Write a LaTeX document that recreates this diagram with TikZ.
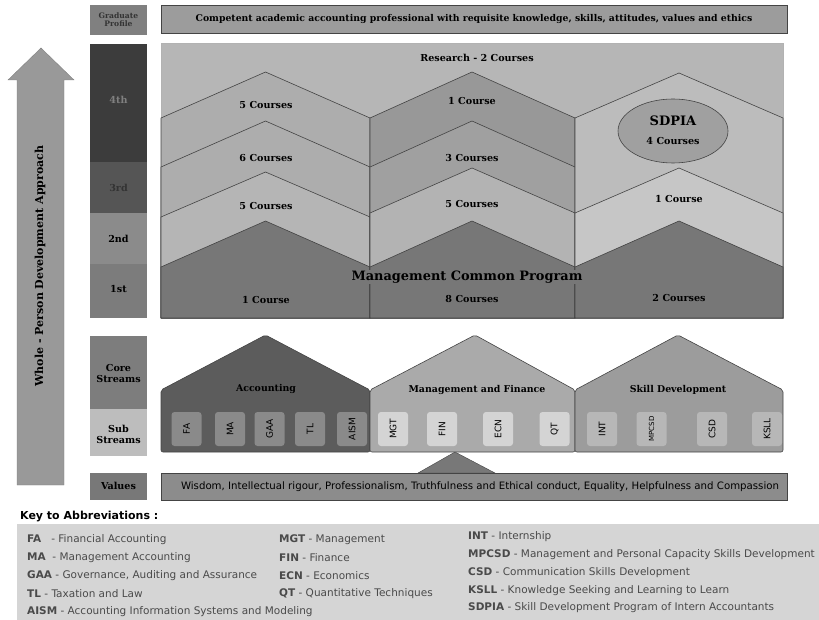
\documentclass[tikz,border=0pt]{standalone}
\usepackage{fontspec}
\setmainfont{DejaVu Serif}
\setsansfont{DejaVu Sans}
\usepackage{tikz}
\usetikzlibrary{shapes.geometric}

\definecolor{edge}{HTML}{444444}
\definecolor{arrowgrey}{HTML}{999999}
\definecolor{gradgrey}{HTML}{808080}
\definecolor{yrfour}{HTML}{3C3C3C}
\definecolor{yrthree}{HTML}{555555}
\definecolor{yrtwo}{HTML}{8B8B8B}
\definecolor{yrone}{HTML}{7C7C7C}
\definecolor{coregrey}{HTML}{7D7D7D}
\definecolor{subgrey}{HTML}{BDBDBD}
\definecolor{valgrey}{HTML}{787878}
\definecolor{headgrey}{HTML}{9C9C9C}
\definecolor{bgmain}{HTML}{B6B6B6}
\definecolor{colA}{HTML}{ADADAD}
\definecolor{colB}{HTML}{A0A0A0}
\definecolor{colC}{HTML}{BCBCBC}
\definecolor{mcp}{HTML}{777777}
\definecolor{accgrey}{HTML}{5C5C5C}
\definecolor{mfgrey}{HTML}{AAAAAA}
\definecolor{sdgrey}{HTML}{9C9C9C}
\definecolor{subacc}{HTML}{8A8A8A}
\definecolor{submf}{HTML}{D4D4D4}
\definecolor{subsd}{HTML}{B7B7B7}
\definecolor{valbar}{HTML}{8C8C8C}
\definecolor{keybg}{HTML}{D5D5D5}
\definecolor{keytext}{HTML}{4A4A4A}

\begin{document}
\begin{tikzpicture}[x=1pt,y=-1pt,
  lbl/.style={font=\bfseries\fontsize{9.6}{11}\selectfont, align=center, inner sep=0pt},
  crs/.style={font=\bfseries\fontsize{9.6}{11}\selectfont, inner sep=0pt},
  band/.style={draw=edge, line width=0.6pt, line join=round},
  house/.style={draw=edge, line width=0.6pt, rounded corners=2pt},
  subbox/.style={rounded corners=3pt, minimum width=30pt, minimum height=34pt,
    inner sep=0pt, font=\sffamily\fontsize{9}{10}\selectfont},
  keytxt/.style={anchor=west, inner sep=0pt, text=keytext,
    font=\sffamily\fontsize{10.5}{12}\selectfont}]

   \useasboundingbox (0,0) rectangle (819,620);

   % whole-person arrow
   \draw [draw=gray, fill=arrowgrey] (17,485) -- (17,80) -- (8,80) -- (41,48) -- (74,80) -- (64,80) -- (64,485) -- cycle;
   \node [font=\bfseries\fontsize{11}{12}\selectfont, rotate=90] (wpda) at (40,266) {Whole - Person Development Approach};

   % year and stream labels
   \fill [gradgrey] (90,5) rectangle (147,35);
   \node [lbl, font=\bfseries\fontsize{7.6}{8}\selectfont, text=black!80] (grad) at (118.5,20) {Graduate\\Profile};
   \fill [yrfour] (90,44) rectangle (147,162);
   \node [lbl, text=gray] (yr4) at (118.5,100) {4th};
   \fill [yrthree] (90,162) rectangle (147,213);
   \node [lbl, text=black!80] (yr3) at (118.5,188) {3rd};
   \fill [yrtwo] (90,213) rectangle (147,264);
   \node [lbl] (yr2) at (118.5,239) {2nd};
   \fill [yrone] (90,264) rectangle (147,318);
   \node [lbl] (yr1) at (118.5,289) {1st};
   \fill [coregrey] (90,336) rectangle (147,409);
   \node [lbl] (core) at (118.5,374) {Core\\Streams};
   \fill [subgrey] (90,409) rectangle (147,456);
   \node [lbl] (subs) at (118.5,434) {Sub\\Streams};
   \fill [valgrey] (90,473) rectangle (147,500);
   \node [lbl] (vals) at (118.5,486) {Values};

   % graduate profile
   \draw [draw=edge, fill=headgrey] (161,5) rectangle (787,33);
   \node [font=\bfseries\fontsize{9.3}{10}\selectfont] (profile) at (474,19) {Competent academic accounting professional with requisite knowledge, skills, attitudes, values and ethics};

   % programme block
   \draw [draw=gray!60, fill=bgmain] (161,43) rectangle (783,318);
   \node [crs] (research) at (477,58) {Research - 2 Courses};

   % column 1
   \draw [band, fill=colA] (161,118) -- (265.5,72) -- (370,118) -- (370,318) -- (161,318) -- cycle;
   \draw [band, fill=colA] (161,167) -- (265.5,121) -- (370,167) -- (370,318) -- (161,318) -- cycle;
   \draw [band, fill=colA!90!white] (161,217) -- (265.5,172) -- (370,217) -- (370,318) -- (161,318) -- cycle;
   \draw [band, fill=mcp] (161,267) -- (265.5,221) -- (370,267) -- (370,318) -- (161,318) -- cycle;
   \node [crs] (c1a) at (266,105) {5 Courses};
   \node [crs] (c1b) at (266,158) {6 Courses};
   \node [crs] (c1c) at (266,206) {5 Courses};
   \node [crs] (c1d) at (266,300) {1 Course};

   % column 2
   \draw [band, fill=colB!95!black] (370,118) -- (472,72) -- (575,118) -- (575,318) -- (370,318) -- cycle;
   \draw [band, fill=colB] (370,167) -- (472,121) -- (575,167) -- (575,318) -- (370,318) -- cycle;
   \draw [band, fill=colB!80!white] (370,213) -- (472,168) -- (575,213) -- (575,318) -- (370,318) -- cycle;
   \draw [band, fill=mcp] (370,267) -- (472,221) -- (575,267) -- (575,318) -- (370,318) -- cycle;
   \node [crs] (c2a) at (472,101) {1 Course};
   \node [crs] (c2b) at (472,158) {3 Courses};
   \node [crs] (c2c) at (472,204) {5 Courses};
   \node [crs] (c2d) at (472,299) {8 Courses};

   % column 3
   \draw [band, fill=colC] (575,118) -- (679,73) -- (783,118) -- (783,318) -- (575,318) -- cycle;
   \draw [band, fill=colC!85!white] (575,213) -- (679,168) -- (783,213) -- (783,318) -- (575,318) -- cycle;
   \draw [band, fill=mcp] (575,267) -- (679,221) -- (783,267) -- (783,318) -- (575,318) -- cycle;
   \node [ellipse, draw=edge, line width=0.6pt, fill=colB, minimum width=110pt, minimum height=64pt] (sdpia) at (673,131) {};
   \node [font=\bfseries\fontsize{13}{14}\selectfont, inner sep=0pt] (sdpiat) at (673,121) {SDPIA};
   \node [crs] (c3a) at (673,141) {4 Courses};
   \node [crs] (c3b) at (679,199) {1 Course};
   \node [crs] (c3c) at (679,298) {2 Courses};

   \node [font=\bfseries\fontsize{12.9}{14}\selectfont, fill=mcp, inner sep=1pt] (mcpt) at (467,277) {Management Common Program};

   % core streams
   \draw [house, fill=accgrey] (161,452) -- (161,390) -- (265.5,335) -- (370,390) -- (370,452) -- cycle;
   \draw [house, fill=mfgrey] (370,452) -- (370,390) -- (475,335) -- (575,390) -- (575,452) -- cycle;
   \draw [house, fill=sdgrey] (575,452) -- (575,390) -- (678,335) -- (783,390) -- (783,452) -- cycle;
   \node [crs, font=\bfseries\fontsize{9.4}{11}\selectfont] (acc) at (266,389) {Accounting};
   \node [crs, font=\bfseries\fontsize{9.4}{11}\selectfont] (mf) at (477,390) {Management and Finance};
   \node [crs, font=\bfseries\fontsize{9.4}{11}\selectfont] (sd) at (678,390) {Skill Development};

   % sub streams
   \foreach \cx/\ab/\fc in {186.5/FA/subacc, 230/MA/subacc, 269.5/GAA/subacc, 310/TL/subacc,
       352/AISM/subacc, 393/MGT/submf, 442/FIN/submf, 498/ECN/submf, 554.5/QT/submf,
       602/INT/subsd, 712/CSD/subsd, 767/KSLL/subsd}
     \node [subbox, fill=\fc] (sub-\ab) at (\cx,429) {\rotatebox{90}{\ab}};
   \node [subbox, fill=subsd, font=\sffamily\fontsize{7}{8}\selectfont] (sub-MPCSD) at (651.5,429) {\rotatebox{90}{MPCSD}};

   % values
   \draw [draw=edge, fill=valgrey] (418,473) -- (455,452) -- (495,473) -- cycle;
   \draw [draw=edge, fill=valbar] (161,473) rectangle (787,500);
   \node [font=\sffamily\fontsize{10.2}{11}\selectfont] (values) at (480,487) {Wisdom, Intellectual rigour, Professionalism, Truthfulness and Ethical conduct, Equality, Helpfulness and Compassion};

   % key
   \node [anchor=west, inner sep=0pt, font=\sffamily\bfseries\fontsize{11}{12}\selectfont] (keyhead) at (20,517) {Key to Abbreviations :};
   \fill [keybg] (17,524) rectangle (819,620);
   \node [keytxt] (kFA) at (27,540) {\textbf{FA}\ \ \ - Financial Accounting};
   \node [keytxt] (kMA) at (27,558) {\textbf{MA}\ \ - Management Accounting};
   \node [keytxt] (kGAA) at (27,576) {\textbf{GAA} - Governance, Auditing and Assurance};
   \node [keytxt] (kTL) at (27,594) {\textbf{TL} - Taxation and Law};
   \node [keytxt] (kAISM) at (27,612) {\textbf{AISM} - Accounting Information Systems and Modeling};
   \node [keytxt] (kMGT) at (279,540) {\textbf{MGT} - Management};
   \node [keytxt] (kFIN) at (279,558) {\textbf{FIN} - Finance};
   \node [keytxt] (kECN) at (279,576) {\textbf{ECN} - Economics};
   \node [keytxt] (kQT) at (279,594) {\textbf{QT} - Quantitative Techniques};
   \node [keytxt] (kINT) at (468,537) {\textbf{INT} - Internship};
   \node [keytxt] (kMPCSD) at (468,555) {\textbf{MPCSD} - Management and Personal Capacity Skills Development};
   \node [keytxt] (kCSD) at (468,573) {\textbf{CSD} - Communication Skills Development};
   \node [keytxt] (kKSLL) at (468,591) {\textbf{KSLL} - Knowledge Seeking and Learning to Learn};
   \node [keytxt] (kSDPIA) at (468,608) {\textbf{SDPIA} - Skill Development Program of Intern Accountants};

\end{tikzpicture}
\end{document}
